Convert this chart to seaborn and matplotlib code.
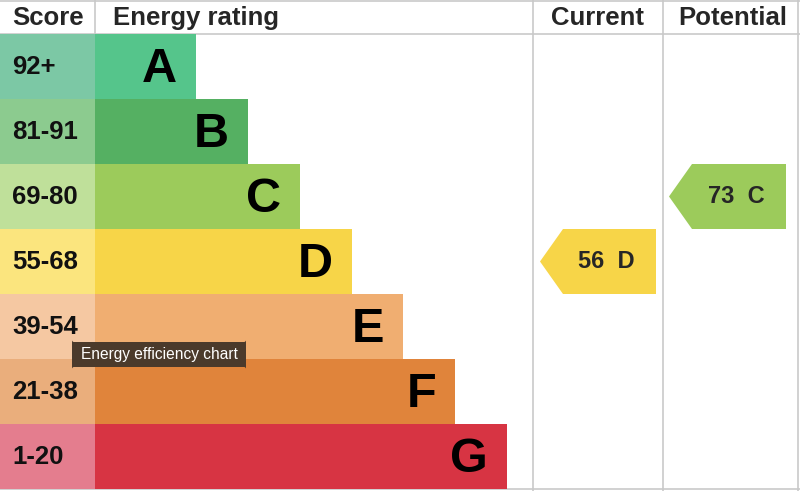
import matplotlib
matplotlib.use("Agg")
import matplotlib.pyplot as plt
import seaborn as sns
from matplotlib.patches import Polygon, FancyBboxPatch

# dados do gráfico
bandas = ["A", "B", "C", "D", "E", "F", "G"]
faixas = ["92+", "81-91", "69-80", "55-68", "39-54", "21-38", "1-20"]
comprimento_barra = [196, 248, 300, 352, 403, 455, 507]
cores_barra = ["#55c58b", "#55b062", "#9ccb5b", "#f7d548", "#f0ae71", "#e0843b", "#d73443"]
cores_faixa = ["#7cc8a5", "#8ccb8f", "#bfe09a", "#fbe57e", "#f5c8a2", "#eaae7c", "#e47d8e"]
largura_faixa = [95] * 7

nota_atual = 56
banda_atual = "D"
nota_potencial = 73
banda_potencial = "C"

CINZA = "#c9c9c9"
FONTE = "Liberation Sans"

sns.set_theme(style="white")
plt.rcParams["font.family"] = [FONTE, "DejaVu Sans"]


def px_linha(py):
    """Converte pixel vertical para unidade de linha (cabeçalho de 34px, linhas de 65px)."""
    return (py - 34) / 65 - 0.5


fig = plt.figure(figsize=(8, 4.91), dpi=100)
ax = fig.add_axes([0, 0, 1, 1])

sns.barplot(x=comprimento_barra, y=bandas, hue=bandas, palette=cores_barra,
            width=1.0, orient="h", legend=False, ax=ax, saturation=1, linewidth=0)
sns.barplot(x=largura_faixa, y=bandas, hue=bandas, palette=cores_faixa,
            width=1.0, orient="h", legend=False, ax=ax, saturation=1, linewidth=0)

ax.set_xlim(0, 800)
ax.set_ylim(px_linha(491), px_linha(0))
ax.axis("off")

# letras e faixas de pontuação
for i, (b, f, c) in enumerate(zip(bandas, faixas, comprimento_barra)):
    ax.text(c - 19, i + 0.04, b, ha="right", va="center", fontsize=35,
            fontweight="bold", color="black")
    ax.text(12, i, f, ha="left", va="center", fontsize=18.5,
            fontweight="bold", color="#111111")

# cabeçalho
yh = px_linha(18)
ax.text(12, yh, "Score", ha="left", va="center", fontsize=18.5, fontweight="bold")
ax.text(113, yh, "Energy rating", ha="left", va="center", fontsize=18.5, fontweight="bold")
ax.text(598, yh, "Current", ha="center", va="center", fontsize=18.5, fontweight="bold")
ax.text(733, yh, "Potential", ha="center", va="center", fontsize=18.5, fontweight="bold")

# linhas da grade
kw = dict(color=CINZA, lw=1.2, zorder=0.5)
ax.plot([0, 800], [px_linha(34)] * 2, **kw)
ax.plot([0, 800], [px_linha(1)] * 2, **kw)
ax.plot([0, 800], [px_linha(489)] * 2, **kw)
ax.plot([95, 95], [px_linha(0), px_linha(34)], **kw)
for xv in (533, 663, 798):
    ax.plot([xv, xv], [px_linha(0), px_linha(491)], **kw)


def seta(nota, banda, ponta, inicio, fim):
    r = bandas.index(banda)
    cor = cores_barra[r]
    pts = [(ponta, r), (inicio, r - 0.5), (fim, r - 0.5), (fim, r + 0.5), (inicio, r + 0.5)]
    ax.add_patch(Polygon(pts, closed=True, facecolor=cor, edgecolor="none", zorder=3))
    ax.text((inicio + fim) / 2 - 3, r, f"{nota}  {banda}", ha="center", va="center",
            fontsize=17, fontweight="bold", zorder=4)


seta(nota_atual, banda_atual, 540, 563, 656)
seta(nota_potencial, banda_potencial, 669, 692, 786)

# tooltip
y0, y1 = px_linha(367), px_linha(342)
ax.add_patch(FancyBboxPatch((72, y0), 174, y1 - y0,
                            boxstyle="round,pad=0,rounding_size=2",
                            mutation_aspect=1 / 65,
                            facecolor="#4b3a2b", edgecolor="none", zorder=5))
ax.text(159, px_linha(354.5), "Energy efficiency chart", ha="center", va="center",
        fontsize=11.2, color="white", zorder=6)

fig.savefig("out.png", dpi=100)
